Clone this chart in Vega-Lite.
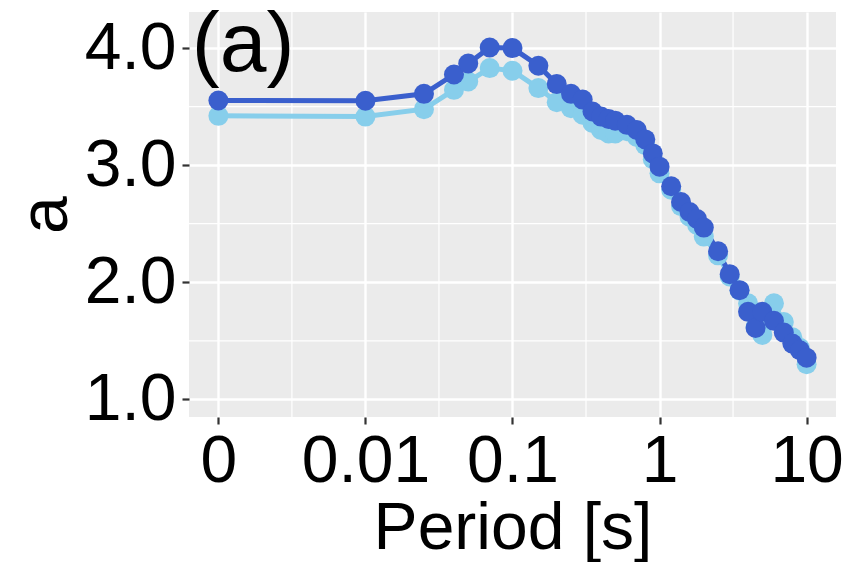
{
  "$schema": "https://vega.github.io/schema/vega-lite/v6.json",
  "width": 647,
  "height": 405,
  "autosize": {"type": "none"},
  "padding": {"left": 189, "top": 12, "right": 16, "bottom": 145},
  "background": "white",
  "config": {
    "view": {"fill": "#EBEBEB", "stroke": null},
    "font": "Liberation Sans",
    "axisX": {"grid": true, "gridColor": "white", "gridWidth": 2.4,
              "domain": false, "tickColor": "#333333", "tickSize": 7, "tickWidth": 2.2,
              "labelFontSize": 66, "labelColor": "black", "labelPadding": 5,
              "labelFlush": false, "labelOverlap": false,
              "titleFontSize": 66, "titleFontWeight": "normal", "titleColor": "black", "titlePadding": 2},
    "axisY": {"grid": true, "gridColor": "white", "gridWidth": 2.4,
              "domain": false, "tickColor": "#333333", "tickSize": 7, "tickWidth": 2.2,
              "labelFontSize": 66, "labelColor": "black", "labelPadding": 6,
              "labelFlush": false, "labelOverlap": false,
              "titleFontSize": 68, "titleFontWeight": "normal", "titleColor": "black", "titlePadding": 4}
  },
  "datasets": {
    "series": [
      {"p": 0.001, "a": 3.421, "s": "light"},
      {"p": 0.01, "a": 3.415, "s": "light"},
      {"p": 0.025, "a": 3.478, "s": "light"},
      {"p": 0.04, "a": 3.643, "s": "light"},
      {"p": 0.05, "a": 3.714, "s": "light"},
      {"p": 0.07, "a": 3.829, "s": "light"},
      {"p": 0.1, "a": 3.806, "s": "light"},
      {"p": 0.15, "a": 3.658, "s": "light"},
      {"p": 0.2, "a": 3.538, "s": "light"},
      {"p": 0.25, "a": 3.487, "s": "light"},
      {"p": 0.3, "a": 3.43, "s": "light"},
      {"p": 0.35, "a": 3.36, "s": "light"},
      {"p": 0.4, "a": 3.3, "s": "light"},
      {"p": 0.45, "a": 3.27, "s": "light"},
      {"p": 0.5, "a": 3.27, "s": "light"},
      {"p": 0.6, "a": 3.29, "s": "light"},
      {"p": 0.7, "a": 3.24, "s": "light"},
      {"p": 0.8, "a": 3.17, "s": "light"},
      {"p": 0.9, "a": 3.05, "s": "light"},
      {"p": 1.0, "a": 2.93, "s": "light"},
      {"p": 1.2, "a": 2.79, "s": "light"},
      {"p": 1.4, "a": 2.65, "s": "light"},
      {"p": 1.6, "a": 2.56, "s": "light"},
      {"p": 1.8, "a": 2.49, "s": "light"},
      {"p": 2.0, "a": 2.39, "s": "light"},
      {"p": 2.5, "a": 2.23, "s": "light"},
      {"p": 3.0, "a": 2.05, "s": "light"},
      {"p": 3.5, "a": 1.93, "s": "light"},
      {"p": 4.0, "a": 1.82, "s": "light"},
      {"p": 4.5, "a": 1.62, "s": "light"},
      {"p": 5.0, "a": 1.55, "s": "light"},
      {"p": 6.0, "a": 1.82, "s": "light"},
      {"p": 7.0, "a": 1.66, "s": "light"},
      {"p": 8.0, "a": 1.53, "s": "light"},
      {"p": 9.0, "a": 1.44, "s": "light"},
      {"p": 10.0, "a": 1.3, "s": "light"},
      {"p": 0.001, "a": 3.552, "s": "dark"},
      {"p": 0.01, "a": 3.55, "s": "dark"},
      {"p": 0.025, "a": 3.609, "s": "dark"},
      {"p": 0.04, "a": 3.774, "s": "dark"},
      {"p": 0.05, "a": 3.868, "s": "dark"},
      {"p": 0.07, "a": 4.005, "s": "dark"},
      {"p": 0.1, "a": 4.0, "s": "dark"},
      {"p": 0.15, "a": 3.849, "s": "dark"},
      {"p": 0.2, "a": 3.692, "s": "dark"},
      {"p": 0.25, "a": 3.609, "s": "dark"},
      {"p": 0.3, "a": 3.56, "s": "dark"},
      {"p": 0.35, "a": 3.458, "s": "dark"},
      {"p": 0.4, "a": 3.415, "s": "dark"},
      {"p": 0.45, "a": 3.395, "s": "dark"},
      {"p": 0.5, "a": 3.38, "s": "dark"},
      {"p": 0.6, "a": 3.344, "s": "dark"},
      {"p": 0.7, "a": 3.3, "s": "dark"},
      {"p": 0.8, "a": 3.22, "s": "dark"},
      {"p": 0.9, "a": 3.1, "s": "dark"},
      {"p": 1.0, "a": 2.987, "s": "dark"},
      {"p": 1.2, "a": 2.82, "s": "dark"},
      {"p": 1.4, "a": 2.685, "s": "dark"},
      {"p": 1.6, "a": 2.6, "s": "dark"},
      {"p": 1.8, "a": 2.54, "s": "dark"},
      {"p": 2.0, "a": 2.467, "s": "dark"},
      {"p": 2.5, "a": 2.265, "s": "dark"},
      {"p": 3.0, "a": 2.069, "s": "dark"},
      {"p": 3.5, "a": 1.932, "s": "dark"},
      {"p": 4.0, "a": 1.747, "s": "dark"},
      {"p": 4.5, "a": 1.61, "s": "dark"},
      {"p": 5.0, "a": 1.747, "s": "dark"},
      {"p": 6.0, "a": 1.67, "s": "dark"},
      {"p": 7.0, "a": 1.57, "s": "dark"},
      {"p": 8.0, "a": 1.476, "s": "dark"},
      {"p": 9.0, "a": 1.419, "s": "dark"},
      {"p": 10.0, "a": 1.356, "s": "dark"}
    ],
    "minorx": [{"m": 0.003162}, {"m": 0.03162}, {"m": 0.3162}, {"m": 3.162}],
    "minory": [{"m": 1.5}, {"m": 2.5}, {"m": 3.5}],
    "tag": [{"t": "(a)", "x": 0.00066, "y": 3.8}]
  },
  "layer": [
    {
      "data": {"name": "minorx"},
      "mark": {"type": "rule", "color": "white", "strokeWidth": 1.2},
      "encoding": {
        "x": {"field": "m", "type": "quantitative", "title": "Period [s]",
              "scale": {"type": "log", "domain": [0.000631, 15.85], "nice": false},
              "axis": {"values": [0.001, 0.01, 0.1, 1, 10],
                       "labelExpr": "datum.value < 0.005 ? '0' : datum.value < 0.05 ? '0.01' : datum.value < 0.5 ? '0.1' : datum.value < 5 ? '1' : '10'"}}
      }
    },
    {
      "data": {"name": "minory"},
      "mark": {"type": "rule", "color": "white", "strokeWidth": 1.2},
      "encoding": {
        "y": {"field": "m", "type": "quantitative", "title": "a",
              "scale": {"domain": [0.849, 4.308], "nice": false, "zero": false},
              "axis": {"values": [1, 2, 3, 4], "format": ".1f"}}
      }
    },
    {
      "data": {"name": "series"},
      "mark": {"type": "line", "strokeWidth": 5},
      "encoding": {
        "x": {"field": "p", "type": "quantitative", "title": "Period [s]",
              "axis": {"values": [0.001, 0.01, 0.1, 1, 10],
                       "labelExpr": "datum.value < 0.005 ? '0' : datum.value < 0.05 ? '0.01' : datum.value < 0.5 ? '0.1' : datum.value < 5 ? '1' : '10'"}},
        "y": {"field": "a", "type": "quantitative", "title": "a",
              "axis": {"values": [1, 2, 3, 4], "format": ".1f"}},
        "color": {"field": "s", "type": "nominal", "legend": null,
                  "scale": {"domain": ["light", "dark"], "range": ["#87CEEB", "#3A5FCD"]}},
        "detail": {"field": "s"}
      }
    },
    {
      "data": {"name": "series"},
      "mark": {"type": "circle", "size": 400, "opacity": 1},
      "encoding": {
        "x": {"field": "p", "type": "quantitative", "title": "Period [s]",
              "axis": {"values": [0.001, 0.01, 0.1, 1, 10],
                       "labelExpr": "datum.value < 0.005 ? '0' : datum.value < 0.05 ? '0.01' : datum.value < 0.5 ? '0.1' : datum.value < 5 ? '1' : '10'"}},
        "y": {"field": "a", "type": "quantitative", "title": "a",
              "axis": {"values": [1, 2, 3, 4], "format": ".1f"}},
        "color": {"field": "s", "type": "nominal", "legend": null}
      }
    },
    {
      "data": {"name": "tag"},
      "mark": {"type": "text", "fontSize": 84, "align": "left", "baseline": "alphabetic", "color": "black"},
      "encoding": {
        "x": {"field": "x", "type": "quantitative", "title": "Period [s]",
              "axis": {"values": [0.001, 0.01, 0.1, 1, 10],
                       "labelExpr": "datum.value < 0.005 ? '0' : datum.value < 0.05 ? '0.01' : datum.value < 0.5 ? '0.1' : datum.value < 5 ? '1' : '10'"}},
        "y": {"field": "y", "type": "quantitative", "title": "a",
              "axis": {"values": [1, 2, 3, 4], "format": ".1f"}},
        "text": {"field": "t"}
      }
    }
  ]
}
